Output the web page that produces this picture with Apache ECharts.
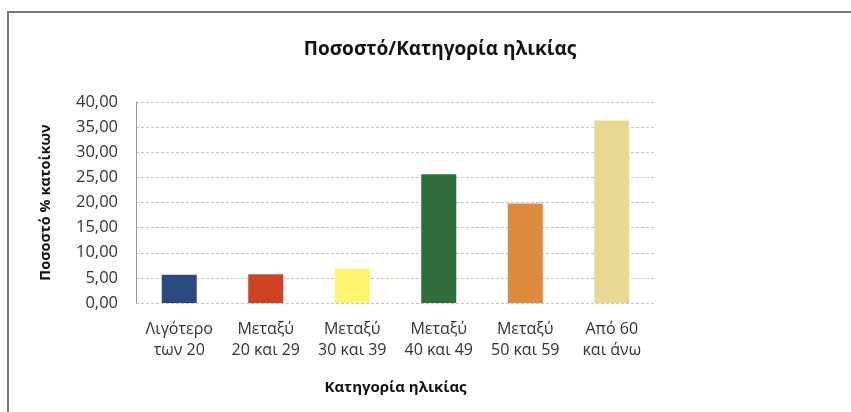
<!DOCTYPE html>
<html>
<head>
<meta charset="utf-8">
<script src="https://cdn.jsdelivr.net/npm/echarts@6/dist/echarts.min.js"></script>
<style>
  html, body { margin: 0; padding: 0; background: #fff; }
  #chart { width: 851px; height: 412px; }
</style>
</head>
<body>
<div id="chart"></div>
<script>
// Age categories and share of residents (%)
const categories = ['Λιγότερο\nτων 20', 'Μεταξύ\n20 και 29', 'Μεταξύ\n30 και 39', 'Μεταξύ\n40 και 49', 'Μεταξύ\n50 και 59', 'Από 60\nκαι άνω'];
const values = [5.6, 5.7, 6.8, 25.6, 19.8, 36.3];
const barColors = ['#2b4a80', '#cf4420', '#fdf36c', '#2f6d3a', '#de8a3e', '#ead892'];

const chart = echarts.init(document.getElementById('chart'));
const font = '"Open Sans", "Noto Sans", sans-serif';

chart.setOption({
    backgroundColor: '#fff',
    animation: false,
    title: {
        text: 'Ποσοστό/Κατηγορία ηλικίας',
        left: 435,
        textAlign: 'center',
        top: 35,
        textStyle: { fontFamily: font, fontSize: 19, fontWeight: 'bold', color: '#111' }
    },
    grid: { left: 136, right: 196, top: 102, bottom: 109 },
    xAxis: {
        type: 'category',
        data: categories,
        name: 'Κατηγορία ηλικίας',
        nameLocation: 'middle',
        nameGap: 77,
        nameTextStyle: { fontFamily: font, fontSize: 15, fontWeight: 'bold', color: '#111' },
        axisLine: { show: false },
        axisTick: { show: false },
        axisLabel: { fontFamily: font, fontSize: 16, color: '#333', margin: 16, lineHeight: 21, interval: 0 }
    },
    yAxis: {
        type: 'value',
        min: 0,
        max: 40,
        interval: 5,
        name: 'Ποσοστό % κατοίκων',
        nameLocation: 'middle',
        nameGap: 83,
        nameTextStyle: { fontFamily: font, fontSize: 14.5, fontWeight: 'bold', color: '#111' },
        axisLine: { show: true, lineStyle: { color: '#999' } },
        axisTick: { show: false },
        axisLabel: {
            fontFamily: font, fontSize: 16.5, color: '#333', margin: 18,
            formatter: v => v.toFixed(2).replace('.', ',')
        },
        splitLine: { lineStyle: { color: '#c4c4c4', type: [3, 2], width: 1 } }
    },
    series: [{
        type: 'bar',
        barWidth: 35,
        data: values.map((v, i) => ({ value: v, itemStyle: { color: barColors[i] } }))
    }],
    graphic: [{
        type: 'polyline',
        shape: { points: [[8, 412], [8, 12], [851, 12]] },
        style: { stroke: '#777', lineWidth: 2, fill: null }
    }]
});
</script>
</body>
</html>
